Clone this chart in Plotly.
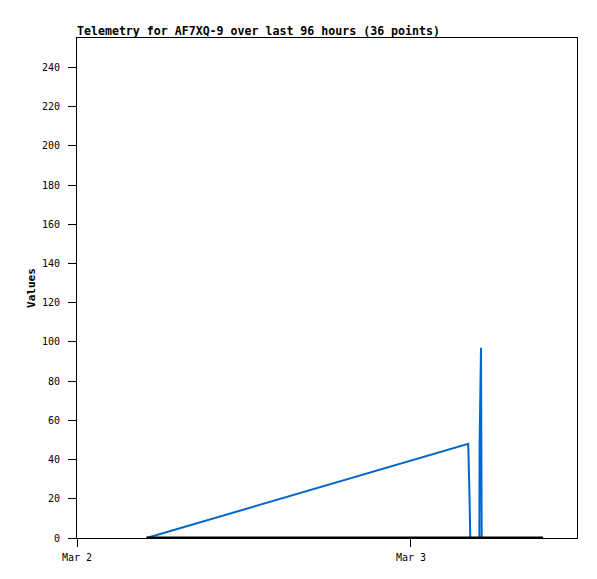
import plotly.graph_objects as go

# blue telemetry series
blue_t = ["2024-03-02 05:00", "2024-03-03 04:07", "2024-03-03 04:12", "2024-03-03 04:16",
          "2024-03-03 04:55", "2024-03-03 04:56", "2024-03-03 05:02", "2024-03-03 05:05"]
blue_v = [0, 48, 24, 0, 0, 48, 97, 0]

# black baseline series
black_t = ["2024-03-02 05:00", "2024-03-03 09:30"]
black_v = [0, 0]

x_ticks = ["2024-03-02", "2024-03-03"]
x_labels = ["Mar 2", "Mar 3"]
y_ticks = list(range(0, 241, 20))

font = "DejaVu Sans Mono"

fig = go.Figure()
fig.add_scatter(x=blue_t, y=blue_v, mode="lines", line=dict(color="#0066cc", width=2),
                showlegend=False, hoverinfo="skip")
fig.add_scatter(x=black_t, y=black_v, mode="lines", line=dict(color="black", width=3),
                showlegend=False, hoverinfo="skip")

fig.update_layout(
    width=597, height=579,
    margin=dict(l=77, r=20, t=38, b=41, autoexpand=False),
    plot_bgcolor="white", paper_bgcolor="white",
    font=dict(family=font, size=10, color="black"),
    title=dict(text="<b>Telemetry for AF7XQ-9 over last 96 hours (36 points)</b>",
               x=0, xanchor="left", xref="paper", y=1 - 31 / 579, yanchor="middle",
               yref="container", automargin=False,
               font=dict(family=font, size=11.6)),
)
fig.update_xaxes(type="date", range=["2024-03-02 00:00", "2024-03-03 11:56"],
                 tickvals=x_ticks, ticktext=x_labels, ticks="outside", ticklen=8,
                 tickcolor="black", showgrid=False, zeroline=False, automargin=False,
                 ticklabelstandoff=2,
                 showline=True, linecolor="black", linewidth=1, mirror=True)
fig.update_yaxes(range=[0, 255], tickvals=y_ticks, ticks="outside", ticklen=8,
                 tickcolor="black", showgrid=False, zeroline=False, automargin=False,
                 ticklabelstandoff=6,
                 showline=True, linecolor="black", linewidth=1, mirror=True,
                 title=dict(text="<b>Values</b>", standoff=4,
                            font=dict(family=font, size=11)))

fig.write_html("out.html", config={"displayModeBar": False},
               post_script="document.body.style.margin='0';")
